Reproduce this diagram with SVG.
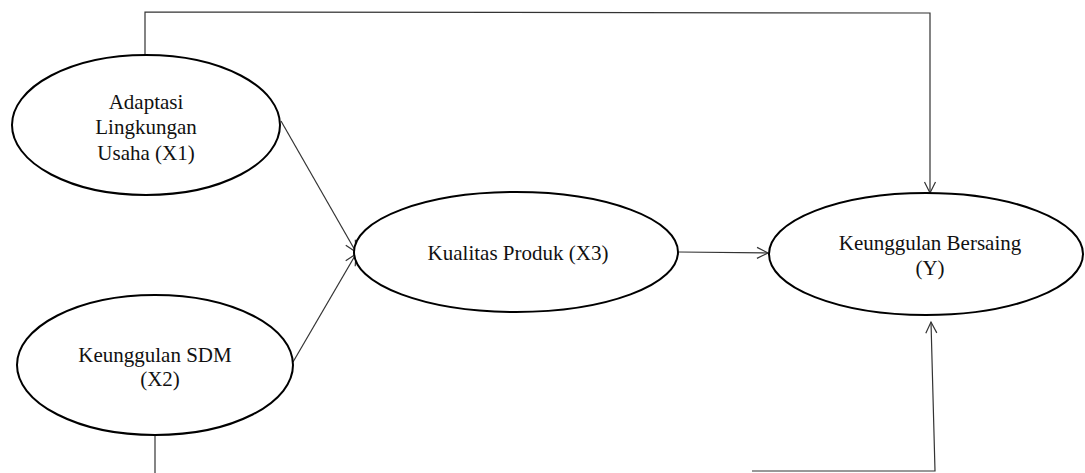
<svg xmlns="http://www.w3.org/2000/svg" width="1085" height="473" viewBox="0 0 1085 473">
<defs>
<style>
.node ellipse{fill:#fff;stroke:#000;stroke-width:2}
.node text{font-family:"Liberation Serif","Times New Roman",serif;font-size:21px;fill:#111;text-anchor:middle}
.conn{fill:none;stroke:#333;stroke-width:1.2}
</style>
<marker id="arr" markerUnits="userSpaceOnUse" markerWidth="14" markerHeight="14" viewBox="0 0 14 14" refX="12" refY="7" orient="auto">
<path d="M1,1.5 L12,7 L1,12.5" fill="none" stroke="#333" stroke-width="1.2"/>
</marker>
</defs>
<rect width="1085" height="473" fill="#fff"/>
<g id="connectors">
<polyline class="conn" points="145,55 145,12 930,13 930,193" marker-end="url(#arr)"/>
<line class="conn" x1="281" y1="121" x2="356" y2="252" marker-end="url(#arr)"/>
<line class="conn" x1="293" y1="362" x2="356" y2="254" marker-end="url(#arr)"/>
<line class="conn" x1="679" y1="252" x2="768" y2="253" marker-end="url(#arr)"/>
<polyline class="conn" points="752,471 935,471 931,322" marker-end="url(#arr)"/>
<line class="conn" x1="155" y1="435" x2="155" y2="473"/>
</g>
<g id="X1" class="node">
<ellipse cx="146" cy="125" rx="134" ry="70"/>
<text x="146" y="109">Adaptasi</text>
<text x="146" y="134">Lingkungan</text>
<text x="146" y="160">Usaha (X1)</text>
</g>
<g id="X2" class="node">
<ellipse cx="155" cy="365" rx="138" ry="70"/>
<text x="155" y="362">Keunggulan SDM</text>
<text x="160" y="386">(X2)</text>
</g>
<g id="X3" class="node">
<ellipse cx="516" cy="252" rx="162" ry="60"/>
<text x="518" y="260">Kualitas Produk (X3)</text>
</g>
<g id="Y" class="node">
<ellipse cx="926" cy="254" rx="157" ry="61"/>
<text x="930" y="250">Keunggulan Bersaing</text>
<text x="930" y="275">(Y)</text>
</g>
</svg>
